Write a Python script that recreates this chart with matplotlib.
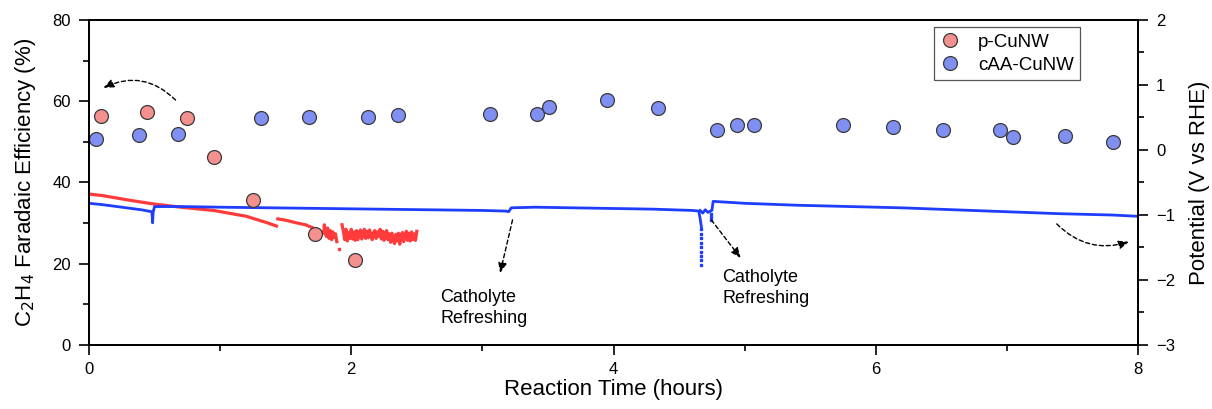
import numpy as np
import matplotlib
matplotlib.use("Agg")
import matplotlib.pyplot as plt
from matplotlib.ticker import MultipleLocator

plt.rcParams['font.family'] = ['Liberation Sans', 'DejaVu Sans']

# ---- Faradaic efficiency data (left axis) ----
p_time = [0.09, 0.44, 0.75, 0.95, 1.25, 1.72, 2.03]
p_fe = [56.4, 57.4, 55.9, 46.3, 35.7, 27.3, 20.9]

c_time = [0.05, 0.38, 0.68, 1.31, 1.68, 2.13, 2.36, 3.06, 3.42, 3.51, 3.95, 4.34,
          4.79, 4.94, 5.07, 5.75, 6.13, 6.51, 6.95, 7.05, 7.44, 7.81]
c_fe = [50.7, 51.7, 51.9, 55.9, 56.1, 56.1, 56.6, 56.9, 56.9, 58.6, 60.3, 58.3,
        52.9, 54.2, 54.2, 54.2, 53.7, 52.9, 52.9, 51.2, 51.4, 50.0]

# ---- Potential traces (right axis) ----
blue_t = [0.00, 0.10, 0.25, 0.40, 0.48, 0.485, 0.49, 0.50, 0.70, 1.00, 1.40, 1.80,
          2.20, 2.60, 3.00, 3.18, 3.20, 3.22, 3.40, 3.70, 4.00, 4.30, 4.60, 4.65, 4.66, 4.67]
blue_v = [-0.82, -0.84, -0.88, -0.92, -0.95, -1.12, -0.95, -0.87, -0.87, -0.88, -0.89, -0.90,
          -0.91, -0.92, -0.93, -0.94, -0.95, -0.89, -0.88, -0.89, -0.90, -0.91, -0.93, -0.94, -1.05, -1.18]

blue2_t = [4.66, 4.68, 4.70, 4.72, 4.74, 4.75, 4.76, 5.00, 5.40, 5.80, 6.20, 6.60, 7.00, 7.40, 7.80, 8.00]
blue2_v = [-0.93, -0.97, -0.92, -0.96, -0.94, -0.93, -0.79, -0.82, -0.85, -0.87, -0.89, -0.92, -0.95, -0.98, -1.00, -1.02]

blue_dot_t = [4.67, 4.67, 4.67, 4.67, 4.67, 4.67, 4.67, 4.67, 4.67, 4.74, 4.74, 4.74]
blue_dot_v = [-1.22, -1.29, -1.36, -1.43, -1.50, -1.57, -1.63, -1.70, -1.77, -0.99, -1.03, -1.07]

red_t = [0.005, 0.10, 0.30, 0.49, 0.70, 0.95, 1.20, 1.36, 1.43, np.nan,
         1.44, 1.50, 1.58, 1.65, 1.71, 1.76, 1.79, 1.795, 1.80, 1.81, 1.82, 1.83, 1.84, 1.85,
         1.86, 1.87, 1.88, 1.89, np.nan,
         1.93, 1.94, 1.95, 1.96, 1.97, 1.98, 1.99, 2.00, 2.01, 2.02, 2.03, 2.04, 2.05, 2.06,
         2.07, 2.08, 2.09, 2.10, 2.11, 2.12, 2.13, 2.14, 2.15, 2.16, 2.17, 2.18, 2.19, 2.20,
         2.21, 2.22, 2.23, 2.24, 2.25, 2.26, 2.27, 2.28, 2.29, 2.30, 2.31, 2.32, 2.33, 2.34,
         2.35, 2.36, 2.37, 2.38, 2.39, 2.40, 2.41, 2.42, 2.43, 2.44, 2.45, 2.46, 2.47, 2.48,
         2.49, 2.50]
red_v = [-0.68, -0.70, -0.77, -0.83, -0.88, -0.93, -1.02, -1.12, -1.17, np.nan,
         -1.06, -1.08, -1.12, -1.15, -1.20, -1.25, -1.28, -1.15, -1.23, -1.33, -1.20, -1.36, -1.24, -1.38,
         -1.26, -1.35, -1.29, -1.41, np.nan,
         -1.15, -1.25, -1.38, -1.22, -1.40, -1.27, -1.36, -1.22, -1.37, -1.26, -1.39, -1.24, -1.38, -1.28,
         -1.23, -1.37, -1.27, -1.22, -1.36, -1.25, -1.35, -1.23, -1.30, -1.38, -1.27, -1.24, -1.36, -1.26,
         -1.33, -1.22, -1.37, -1.25, -1.39, -1.28, -1.24, -1.38, -1.29, -1.42, -1.28, -1.38, -1.44, -1.30,
         -1.40, -1.28, -1.45, -1.31, -1.27, -1.41, -1.32, -1.25, -1.39, -1.28, -1.40, -1.26, -1.38, -1.29,
         -1.39, -1.25]
red_dot_t = [1.91]
red_dot_v = [-1.53]

fig = plt.figure(figsize=(12.12, 4.09), dpi=100)
ax = fig.add_axes([0.0734, 0.1565, 0.8656, 0.7946])
ax2 = ax.twinx()

# potential traces
ax2.plot(red_t, red_v, color='#ff3b3b', lw=2.3)
ax2.plot(red_dot_t, red_dot_v, 's', color='#ff3b3b', ms=2)
ax2.plot(blue_t, blue_v, color='#1f3dff', lw=2.0)
ax2.plot(blue2_t, blue2_v, color='#1f3dff', lw=2.0)
ax2.plot(blue_dot_t, blue_dot_v, 's', color='#1f3dff', ms=1.6, lw=0)
ax2.set_ylim(-3, 2)
ax2.yaxis.set_major_locator(MultipleLocator(1))
ax2.yaxis.set_minor_locator(MultipleLocator(0.5))
ax2.set_ylabel('Potential (V vs RHE)', fontsize=16, labelpad=10)

# FE markers on top
ax.set_zorder(ax2.get_zorder() + 1)
ax.patch.set_visible(False)
ax.plot(p_time, p_fe, 'o', ls='none', ms=10, mfc='#f4908e', mec='#3a3a3a', mew=0.9, label='p-CuNW')
ax.plot(c_time, c_fe, 'o', ls='none', ms=10, mfc='#8090f2', mec='#3a3a3a', mew=0.9, label='cAA-CuNW')

ax.set_xlim(0, 8)
ax.set_ylim(0, 80)
ax.xaxis.set_major_locator(MultipleLocator(2))
ax.xaxis.set_minor_locator(MultipleLocator(1))
ax.yaxis.set_major_locator(MultipleLocator(20))
ax.yaxis.set_minor_locator(MultipleLocator(10))
ax.set_xlabel('Reaction Time (hours)', fontsize=16, labelpad=2)
ax.set_ylabel('C$_2$H$_4$ Faradaic Efficiency (%)', fontsize=16, labelpad=10)

for a in (ax, ax2):
    a.tick_params(which='major', length=7, width=1.2, labelsize=12, pad=6, direction='out')
    a.tick_params(which='minor', length=4, width=1.2, direction='out')
    for s in a.spines.values():
        s.set_linewidth(1.3)
ax.tick_params(axis='x', pad=5)

leg = ax.legend(loc='upper right', bbox_to_anchor=(0.945, 0.978), fontsize=13.5,
                frameon=True, fancybox=False, edgecolor='#555555', framealpha=1,
                handlelength=1.0, handletextpad=1.0, borderpad=0.35, labelspacing=0.3,
                borderaxespad=0)
leg.get_frame().set_linewidth(0.9)

# annotations
arr = dict(arrowstyle='-|>,head_length=0.6,head_width=0.25', color='black', lw=1.0,
           linestyle=(0, (3, 2)), shrinkA=0, shrinkB=0)
ax.annotate('', xy=(0.11, 63.3), xytext=(0.66, 60.3),
            arrowprops=dict(arr, connectionstyle='arc3,rad=0.35'))
ax.annotate('', xy=(3.135, 17.7), xytext=(3.23, 30.8), arrowprops=arr)
ax.annotate('', xy=(4.97, 21.4), xytext=(4.745, 30.8), arrowprops=arr)
ax.annotate('', xy=(7.93, 25.4), xytext=(7.38, 29.8),
            arrowprops=dict(arr, connectionstyle='arc3,rad=0.3'))
ax.text(2.68, 9.1, 'Catholyte\nRefreshing', fontsize=13, ha='left', va='center', linespacing=1.3)
ax.text(4.83, 14.0, 'Catholyte\nRefreshing', fontsize=13, ha='left', va='center', linespacing=1.3)

fig.savefig('out.png', dpi=100)
